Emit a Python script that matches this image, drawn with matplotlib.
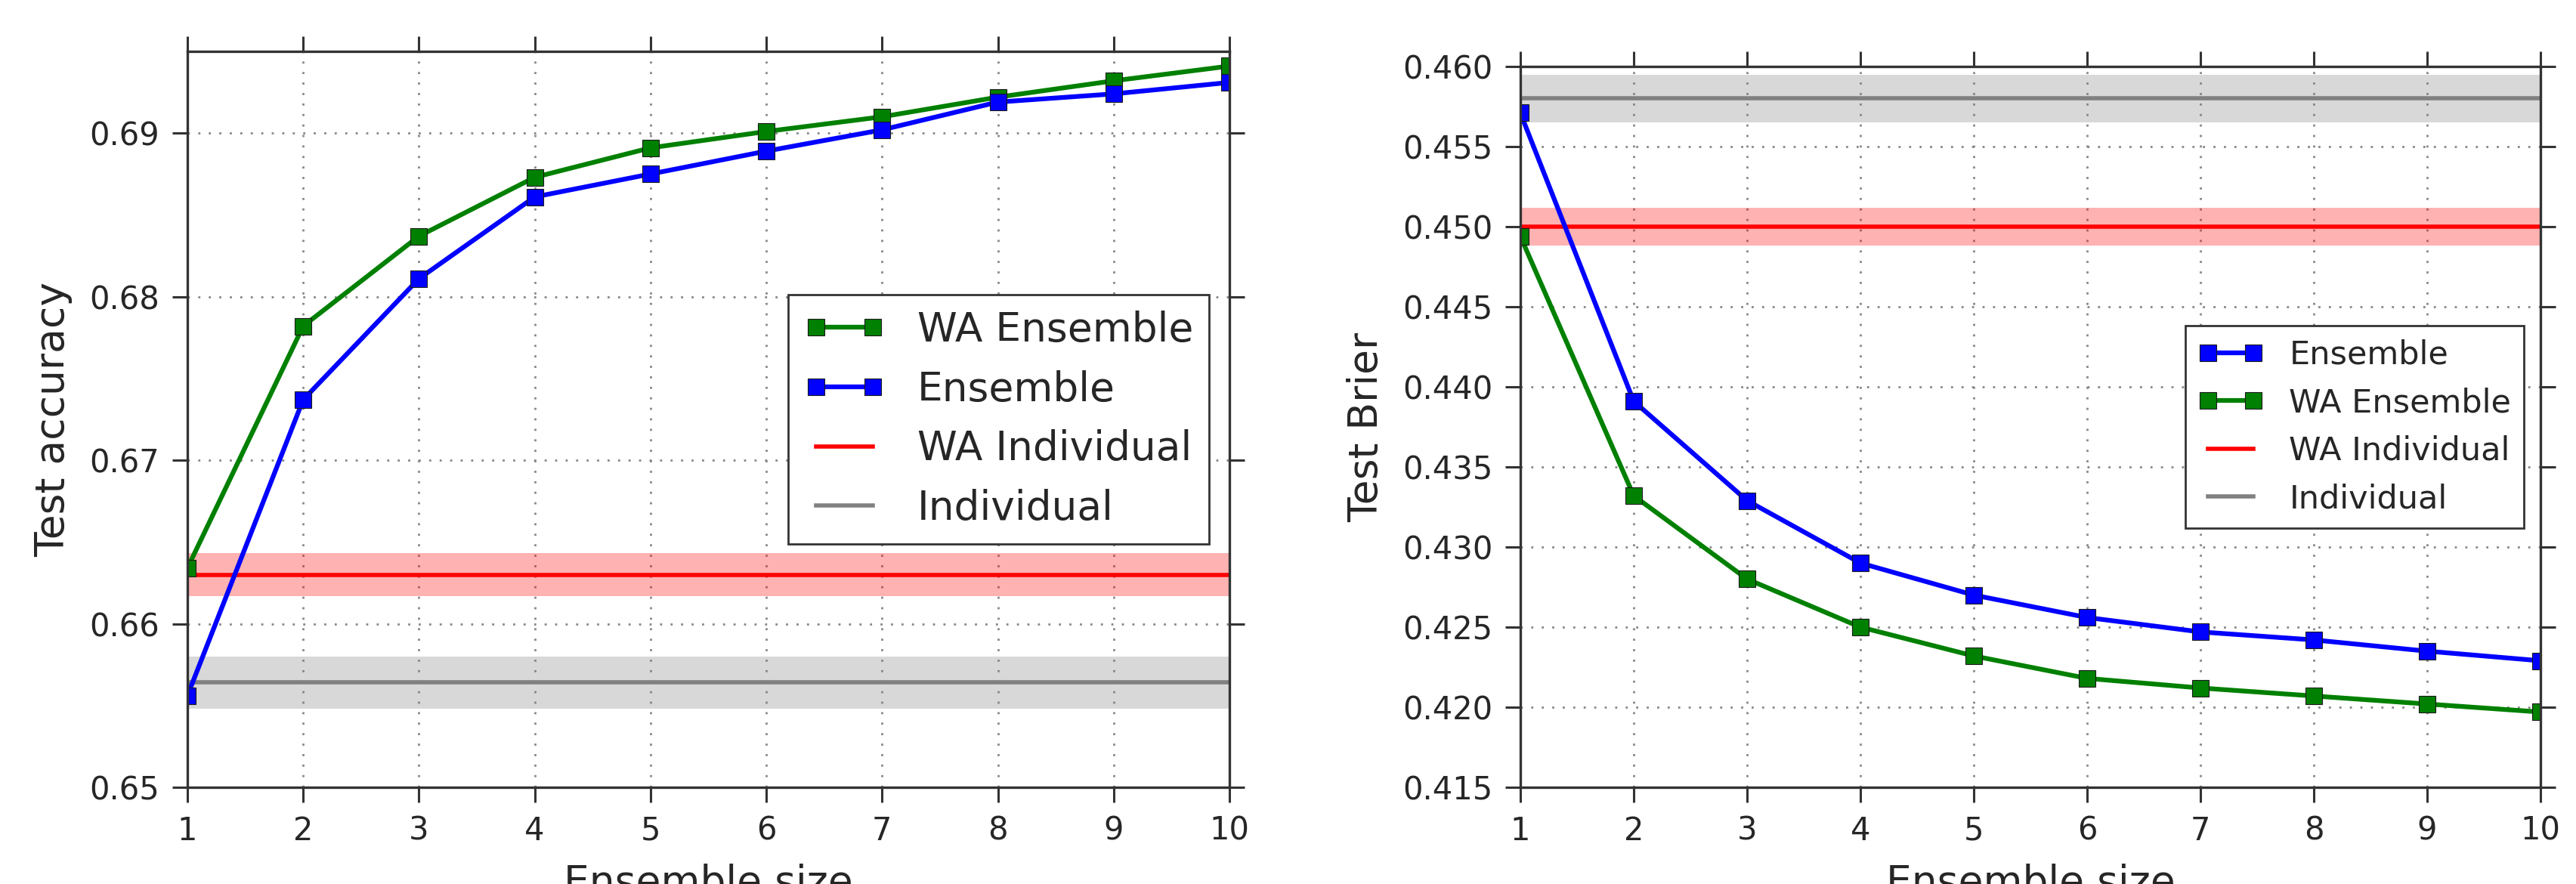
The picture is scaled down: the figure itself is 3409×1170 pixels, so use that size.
import numpy as np
import matplotlib
matplotlib.use("Agg")
import matplotlib.pyplot as plt

# Ensemble sizes
sizes = [1, 2, 3, 4, 5, 6, 7, 8, 9, 10]

# Test accuracy (left panel)
acc_wa_ensemble = [0.6634, 0.6782, 0.6837, 0.6873, 0.6891, 0.6901, 0.6910, 0.6922, 0.6932, 0.6941]
acc_ensemble = [0.6556, 0.6737, 0.6811, 0.6861, 0.6875, 0.6889, 0.6902, 0.6919, 0.6924, 0.6931]
acc_wa_individual = 0.6630
acc_wa_individual_std = 0.0013
acc_individual = 0.6564
acc_individual_std = 0.0016

# Test Brier (right panel)
brier_ensemble = [0.4571, 0.4391, 0.4329, 0.4290, 0.4270, 0.4256, 0.4247, 0.4242, 0.4235, 0.4229]
brier_wa_ensemble = [0.4494, 0.4332, 0.4280, 0.4250, 0.4232, 0.4218, 0.4212, 0.4207, 0.4202, 0.4197]
brier_wa_individual = 0.4500
brier_wa_individual_std = 0.0012
brier_individual = 0.4580
brier_individual_std = 0.0015

text_col = '#262626'
plt.rcParams['font.family'] = ['DejaVu Sans']
plt.rcParams['text.color'] = text_col
plt.rcParams['axes.labelcolor'] = text_col
plt.rcParams['xtick.color'] = '#333333'
plt.rcParams['ytick.color'] = '#333333'
plt.rcParams['xtick.labelcolor'] = text_col
plt.rcParams['ytick.labelcolor'] = text_col

fig = plt.figure(figsize=(34.09, 11.70), dpi=100)
ax1 = fig.add_axes([0.07275, 0.1094, 0.4045, 0.8325])
ax2 = fig.add_axes([0.5902, 0.1094, 0.3960, 0.8154])

line_kw = dict(marker='s', markersize=16, linewidth=4.5,
               markeredgecolor='#1a1a1a', markeredgewidth=0.8)
green = (0.0, 0.5, 0.0)
blue = (0.0, 0.0, 1.0)


def hband(ax, mean, std, color, label):
    x = np.array([sizes[0], sizes[-1]])
    ax.fill_between(x, mean - std, mean + std, color=color, alpha=0.3, linewidth=0)
    ax.plot(x, [mean, mean], color=color, linewidth=4, label=label)


def style(ax, ylabel, ticks, fmt):
    ax.set_xlim(1, 10)
    ax.set_xticks(sizes)
    ax.set_yticks(ticks)
    ax.set_yticklabels([fmt.format(t) for t in ticks])
    ax.tick_params(axis='both', which='major', direction='out', length=14.4, width=2.2,
                   labelsize=30, pad=12, top=True, right=True)
    for sp in ax.spines.values():
        sp.set_linewidth(2.4)
        sp.set_color('#333333')
    ax.grid(True, color='#888888', linestyle=(0, (1, 4)), linewidth=2)
    ax.set_axisbelow(True)
    ax.set_xlabel('Ensemble size', fontsize=38.5, labelpad=16)
    ax.set_ylabel(ylabel, fontsize=38.5, labelpad=16)


# Left: test accuracy
hband(ax1, acc_wa_individual, acc_wa_individual_std, 'red', 'WA Individual')
hband(ax1, acc_individual, acc_individual_std, 'gray', 'Individual')
ax1.plot(sizes, acc_wa_ensemble, color=green, label='WA Ensemble', **line_kw)
ax1.plot(sizes, acc_ensemble, color=blue, label='Ensemble', **line_kw)
ax1.set_ylim(0.65, 0.695)
style(ax1, 'Test accuracy', [0.65, 0.66, 0.67, 0.68, 0.69], '{:.2f}')
h, l = ax1.get_legend_handles_labels()
order = [l.index(n) for n in ['WA Ensemble', 'Ensemble', 'WA Individual', 'Individual']]
leg = ax1.legend([h[i] for i in order], [l[i] for i in order], loc='center right',
                 fontsize=38.4, numpoints=2, handlelength=2.0, fancybox=False,
                 framealpha=1, edgecolor='#333333', borderaxespad=0.5)
leg.get_frame().set_linewidth(2)

# Right: test Brier
hband(ax2, brier_individual, brier_individual_std, 'gray', 'Individual')
hband(ax2, brier_wa_individual, brier_wa_individual_std, 'red', 'WA Individual')
ax2.plot(sizes, brier_ensemble, color=blue, label='Ensemble', **line_kw)
ax2.plot(sizes, brier_wa_ensemble, color=green, label='WA Ensemble', **line_kw)
ax2.set_ylim(0.415, 0.460)
style(ax2, 'Test Brier', [0.415 + 0.005 * i for i in range(10)], '{:.3f}')
h, l = ax2.get_legend_handles_labels()
order = [l.index(n) for n in ['Ensemble', 'WA Ensemble', 'WA Individual', 'Individual']]
leg = ax2.legend([h[i] for i in order], [l[i] for i in order], loc='center right',
                 fontsize=31, numpoints=2, handlelength=2.0, fancybox=False,
                 framealpha=1, edgecolor='#333333', borderaxespad=0.5)
leg.get_frame().set_linewidth(2)

fig.savefig('out.png', dpi=100)
